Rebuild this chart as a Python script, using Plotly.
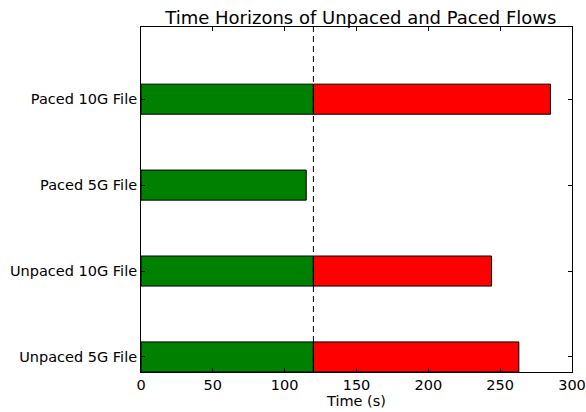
import plotly.graph_objects as go

# Flows, bottom to top
flows = ["Unpaced 5G File", "Unpaced 10G File", "Paced 5G File", "Paced 10G File"]
# Time spent within the horizon (green) and total completion time (s)
within_horizon = [120, 120, 115, 120]
completion = [263, 244, 115, 285]
horizon = 120
x_ticks = [0, 50, 100, 150, 200, 250, 300]

beyond = [max(c - horizon, 0) for c in completion]
positions = list(range(len(flows)))

fig = go.Figure()
fig.add_trace(go.Bar(
    y=positions, x=within_horizon, base=[0] * len(flows), orientation="h",
    width=0.35, marker=dict(color="#008000", line=dict(color="black", width=1)),
    showlegend=False, hoverinfo="skip",
))
fig.add_trace(go.Bar(
    y=[p for p, b in zip(positions, beyond) if b > 0],
    x=[b for b in beyond if b > 0],
    base=[horizon] * sum(1 for b in beyond if b > 0), orientation="h",
    width=0.35, marker=dict(color="#ff0000", line=dict(color="black", width=1)),
    showlegend=False, hoverinfo="skip",
))
fig.add_shape(type="line", xref="x", yref="paper", x0=horizon, x1=horizon, y0=0, y1=1,
              line=dict(color="black", width=1, dash="6px,4px"))

axis_font = dict(family="DejaVu Sans", size=14.5, color="black")
fig.update_layout(
    width=586, height=412,
    margin=dict(l=141, r=14, t=27, b=40),
    paper_bgcolor="white", plot_bgcolor="white",
    barmode="overlay",
    title=dict(text="Time Horizons of Unpaced and Paced Flows", x=0.51, xanchor="center",
               xref="paper", y=0.957, yanchor="middle",
               font=dict(family="DejaVu Sans", size=18, color="black")),
    xaxis=dict(range=[0, 300], tickvals=x_ticks,
               ticks="inside", ticklen=4, tickcolor="black", mirror="ticks",
               showline=True, linecolor="black", linewidth=1, showgrid=False, zeroline=False,
               tickfont=axis_font, automargin=False,
               title=dict(text="Time (s)", font=axis_font, standoff=3)),
    yaxis=dict(range=[-0.175, 3.84], tickvals=positions, ticktext=flows,
               ticks="inside", ticklen=4, tickcolor="black", mirror="ticks",
               showline=True, linecolor="black", linewidth=1, showgrid=False, zeroline=False,
               tickfont=axis_font, automargin=False),
)

fig.write_html("out.html")
